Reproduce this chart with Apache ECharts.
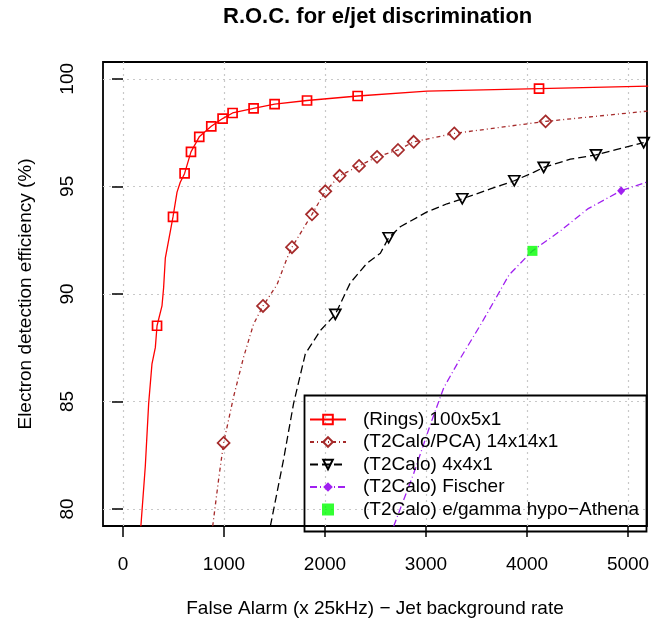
<!DOCTYPE html>
<html>
<head>
<meta charset="UTF-8">
<title>R.O.C. for e/jet discrimination</title>
<script src="https://cdn.jsdelivr.net/npm/echarts@6/dist/echarts.min.js"></script>
<style>
  body { margin: 0; background: #fff; }
  #chart { width: 665px; height: 623px; }
</style>
</head>
<body>
<div id="chart"></div>
<script>
// values (false alarm x 25kHz, efficiency %)
// *Mark arrays: 1 = a marker is drawn at that point
const ringsX = [177, 221, 254, 287, 320, 337, 386, 402, 419, 468, 495, 535, 567, 610, 673, 755, 874, 986, 1085, 1293, 1501, 1822, 2323, 3010, 4119, 5200];
const ringsY = [79.2, 82.0, 84.9, 86.75, 87.5, 88.52, 89.44, 90.28, 91.66, 92.89, 93.58, 94.73, 95.19, 95.6, 96.6, 97.3, 97.79, 98.15, 98.41, 98.62, 98.82, 98.99, 99.2, 99.43, 99.54, 99.66];
const ringsMark = [0, 0, 0, 0, 0, 1, 0, 0, 0, 0, 1, 0, 0, 1, 1, 1, 1, 1, 1, 1, 1, 1, 1, 0, 1, 0];

const pcaX = [888, 947, 996, 1095, 1194, 1293, 1386, 1525, 1624, 1673, 1871, 2003, 2145, 2337, 2515, 2723, 2878, 3280, 4184, 5200];
const pcaY = [79.2, 81.39, 83.07, 85.22, 87.06, 88.6, 89.44, 90.43, 91.66, 92.17, 93.7, 94.77, 95.49, 95.95, 96.37, 96.69, 97.07, 97.46, 98.02, 98.5];
const pcaMark = [0, 0, 1, 0, 0, 0, 1, 0, 0, 1, 1, 1, 1, 1, 1, 1, 1, 1, 1, 0];

const t2X = [1459, 1590, 1689, 1805, 1953, 2102, 2250, 2416, 2548, 2630, 2745, 3010, 3208, 3359, 3637, 3874, 4065, 4165, 4429, 4683, 4891, 5155];
const t2Y = [79.2, 82.31, 84.91, 87.21, 88.29, 89.05, 90.51, 91.43, 91.89, 92.61, 93.12, 93.81, 94.19, 94.42, 94.88, 95.26, 95.65, 95.88, 96.26, 96.46, 96.72, 97.03];
const t2Mark = [0, 0, 0, 0, 0, 1, 0, 0, 0, 1, 0, 0, 0, 1, 0, 1, 0, 1, 0, 1, 0, 1];

const fischerX = [2680, 2878, 3045, 3176, 3343, 3541, 3673, 3823, 4054, 4336, 4601, 4932, 5200];
const fischerY = [79.2, 81.65, 83.95, 85.64, 87.03, 88.57, 89.65, 90.89, 92.0, 92.95, 93.95, 94.8, 95.22];
const fischerMark = [0, 0, 0, 0, 0, 0, 0, 0, 0, 0, 0, 1, 0];

const athenaX = [4054];
const athenaY = [92.0];

const names = ['(Rings) 100x5x1', '(T2Calo/PCA) 14x14x1', '(T2Calo) 4x4x1', '(T2Calo) Fischer', '(T2Calo) e/gamma hypo\u2212Athena'];
const xTicks = [0, 1000, 2000, 3000, 4000, 5000];
const yTicks = [80, 85, 90, 95, 100];

const FONT = '"Liberation Sans", Arial, sans-serif';
const SQUARE = 'path://M0,0 L10,0 L10,10 L0,10 Z';

function pts(xs, ys, mark) {
  return xs.map((x, i) => (mark && !mark[i]) ? { value: [x, ys[i]], symbol: 'none' } : [x, ys[i]]);
}

function curve(name, data, color, dash, symbol, size, filled) {
  return {
    name: name,
    type: 'line',
    data: data,
    symbol: symbol,
    symbolSize: size,
    showAllSymbol: true,
    lineStyle: { color: color, width: 1.3, type: dash },
    itemStyle: filled
      ? { color: color, borderWidth: 0 }
      : { color: 'rgba(255,255,255,0)', borderColor: color, borderWidth: 1.7 },
    emphasis: { disabled: true },
    z: 3
  };
}

const chart = echarts.init(document.getElementById('chart'), null, { renderer: 'canvas' });
chart.setOption({
  animation: false,
  textStyle: { fontFamily: FONT, color: '#000' },
  title: {
    text: 'R.O.C. for e/jet discrimination',
    left: 223, top: 6, padding: 0,
    textStyle: { fontFamily: FONT, fontSize: 22, fontWeight: 'bold', color: '#000' }
  },
  grid: {
    left: 103, right: 18, top: 62, bottom: 92,
    show: true, borderColor: '#000', borderWidth: 1.8, backgroundColor: 'transparent'
  },
  legend: {
    orient: 'vertical',
    left: 309, top: 410, padding: 0,
    itemWidth: 36, itemHeight: 12, itemGap: 3.5,
    selectedMode: false,
    data: names,
    textStyle: { fontFamily: FONT, fontSize: 19, color: '#000', padding: [0, 0, 0, 12] }
  },
  xAxis: {
    type: 'value', min: -198, max: 5188,
    name: 'False Alarm (x 25kHz) \u2212 Jet background rate',
    nameLocation: 'middle', nameGap: 73,
    nameTextStyle: { fontFamily: FONT, fontSize: 19, color: '#000' },
    axisLine: { show: false },
    axisTick: { show: true, length: 11, customValues: xTicks, lineStyle: { color: '#000', width: 1.5 } },
    axisLabel: { customValues: xTicks, margin: 29, fontSize: 19, fontFamily: FONT, color: '#000', formatter: v => String(v) },
    splitLine: { show: true, lineStyle: { color: '#c8c8c8', width: 1.2, type: [2, 4] } }
  },
  yAxis: {
    type: 'value', min: 79.21, max: 100.78,
    name: 'Electron detection efficiency (%)',
    nameLocation: 'middle', nameGap: 68,
    nameTextStyle: { fontFamily: FONT, fontSize: 19, color: '#000' },
    axisLine: { show: false },
    axisTick: { show: true, length: 11, customValues: yTicks, lineStyle: { color: '#000', width: 1.5 } },
    axisLabel: { customValues: yTicks, rotate: 90, margin: 26, fontSize: 19, fontFamily: FONT, color: '#000', formatter: v => String(v) },
    splitLine: { show: true, lineStyle: { color: '#c8c8c8', width: 1.2, type: [2, 4] } }
  },
  graphic: [{
    type: 'rect', z: 10,
    shape: { x: 304.5, y: 395.5, width: 342, height: 136 },
    style: { fill: 'none', stroke: '#000', lineWidth: 1.8 }
  }],
  series: [
    curve(names[0], pts(ringsX, ringsY, ringsMark), '#ff0000', 'solid', 'rect', 9, false),
    curve(names[1], pts(pcaX, pcaY, pcaMark), '#a52a2a', [4, 3, 1, 3], 'diamond', 12, false),
    curve(names[2], pts(t2X, t2Y, t2Mark), '#000000', [8, 4], 'path://M0,0 L10,0 L5,9 Z', [11, 10], false),
    curve(names[3], pts(fischerX, fischerY, fischerMark), '#a020f0', [7, 3, 1, 3], 'diamond', [8, 9], true),
    {
      name: names[4], type: 'scatter',
      data: pts(athenaX, athenaY, null),
      symbol: SQUARE, symbolSize: 10,
      itemStyle: { color: '#00ff00' },
      emphasis: { disabled: true },
      z: 4
    }
  ]
});
</script>
</body>
</html>
